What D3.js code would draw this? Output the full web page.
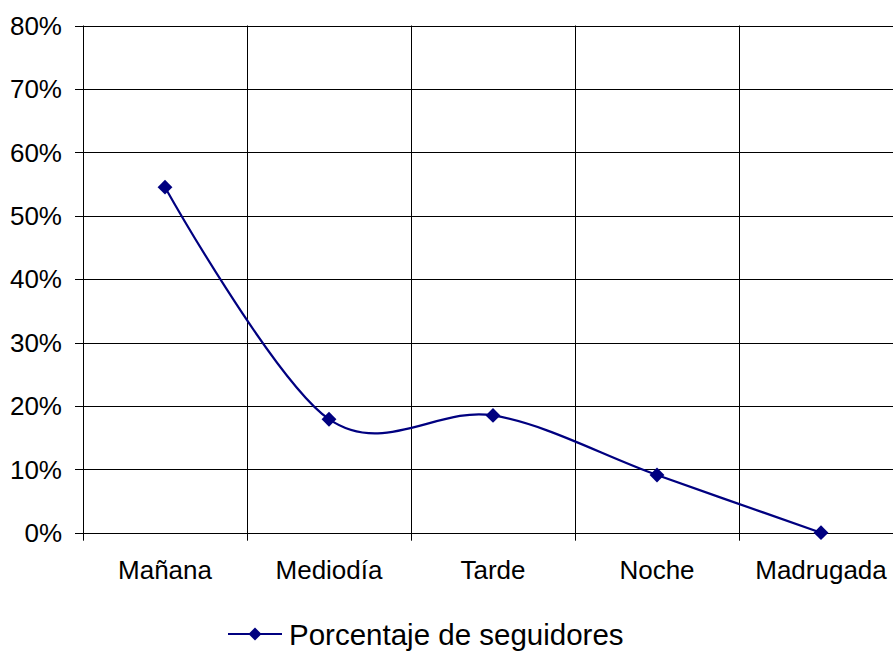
<!DOCTYPE html>
<html><head><meta charset="utf-8">
<script src="https://cdn.jsdelivr.net/npm/d3@7"></script>
<style>body{margin:0;background:#fff;}svg{display:block;}</style>
</head><body>
<script>
const categories = ["Mañana","Mediodía","Tarde","Noche","Madrugada"];
const values = [0.545, 0.179, 0.185, 0.091, 0.0];
const yTicks = [0,0.1,0.2,0.3,0.4,0.5,0.6,0.7,0.8];
const seriesName = "Porcentaje de seguidores";

(function(){
const W=893,H=652;
const svg=d3.select("body").append("svg").attr("width",W).attr("height",H);
const mLeft=83, mRight=903, mTop=25.5, mBottom=532.7;
const font="Liberation Sans, Arial, sans-serif";
const x=d3.scaleBand().domain(categories).range([mLeft,mRight]);
const y=d3.scaleLinear().domain([0,0.8]).range([mBottom,mTop]);

svg.append("g").selectAll("line").data(yTicks).join("line")
 .attr("x1",mLeft-8).attr("x2",mRight).attr("y1",d=>Math.round(y(d))+0.5).attr("y2",d=>Math.round(y(d))+0.5)
 .attr("stroke","#000").attr("stroke-width",1);
const bounds=categories.map(c=>x(c));
svg.append("g").selectAll("line").data(bounds).join("line")
 .attr("x1",d=>Math.round(d)+0.5).attr("x2",d=>Math.round(d)+0.5).attr("y1",mTop).attr("y2",mBottom+8)
 .attr("stroke","#000").attr("stroke-width",1);

svg.append("g").selectAll("text").data(yTicks).join("text")
 .attr("x",mLeft-21).attr("y",d=>y(d)).attr("dy","0.36em").attr("text-anchor","end")
 .attr("font-family",font).attr("font-size",26).attr("fill","#000")
 .text(d3.format(".0%"));
svg.append("g").selectAll("text").data(categories).join("text")
 .attr("x",d=>x(d)+x.bandwidth()/2).attr("y",570).attr("dy","0.36em").attr("text-anchor","middle")
 .attr("font-family",font).attr("font-size",26).attr("fill","#000")
 .text(d=>d);

const color="#000080";
const line=d3.line().x((d,i)=>x(categories[i])+x.bandwidth()/2).y(d=>y(d)).curve(d3.curveCardinal.tension(0));
svg.append("path").datum(values).attr("d",line).attr("fill","none").attr("stroke",color).attr("stroke-width",2.2);
svg.append("g").selectAll("path").data(values).join("path")
 .attr("d",d3.symbol().type(d3.symbolSquare).size(110))
 .attr("transform",(d,i)=>`translate(${x(categories[i])+x.bandwidth()/2},${y(d)}) rotate(45)`)
 .attr("fill",color);

const ly=634;
svg.append("line").attr("x1",228).attr("x2",282).attr("y1",ly).attr("y2",ly).attr("stroke",color).attr("stroke-width",2.2);
svg.append("path").attr("d",d3.symbol().type(d3.symbolSquare).size(85)).attr("transform",`translate(255,${ly}) rotate(45)`).attr("fill",color);
svg.append("text").attr("x",289).attr("y",ly).attr("dy","0.36em").attr("font-family",font).attr("font-size",29.5).attr("fill","#000").text(seriesName);
})();
</script>
</body></html>
